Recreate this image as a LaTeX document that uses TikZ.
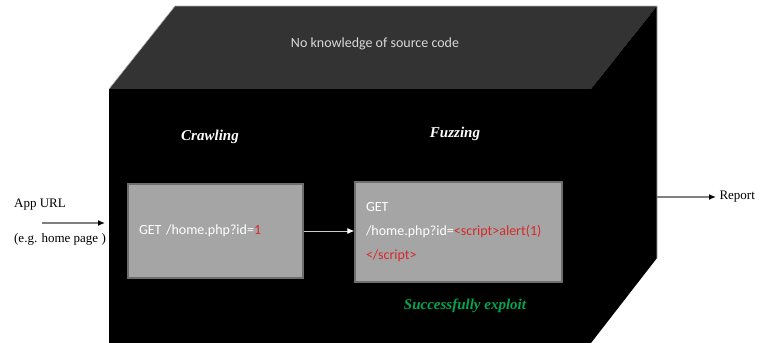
\documentclass[tikz,border=0pt]{standalone}
\usepackage{fontspec}
\setmainfont{Liberation Serif}
\newfontfamily\calibri{Carlito}
\usetikzlibrary{positioning,arrows.meta,calc}
\definecolor{topgray}{HTML}{333333}
\definecolor{boxgray}{HTML}{A5A5A5}
\definecolor{boxedge}{HTML}{6E6E6E}
\definecolor{scriptred}{HTML}{D42A2A}
\definecolor{exploitgreen}{HTML}{00A651}
\tikzset{
  reqbox/.style={draw=boxedge, line width=1.2pt, fill=boxgray, align=left, text=white, inner xsep=11pt, font=\calibri\fontsize{14}{24}\selectfont},
  phase/.style={text=white, font=\fontsize{15}{17}\selectfont\bfseries\itshape},
  toplabel/.style={text=white!85!black, font=\calibri\fontsize{14}{16}\selectfont},
  outlabel/.style={font=\fontsize{13}{15}\selectfont},
  grayarrow/.style={-{Latex[length=7pt, width=6pt, black]}, draw=gray, line width=1.3pt},
  whitearrow/.style={-{Latex[length=7pt, width=6pt, white]}, draw=white!80!black, line width=1pt}
}

\begin{document}
\begin{tikzpicture}[x=1pt, y=-1pt]
  \useasboundingbox (0,0) rectangle (764,343);
  % box corners
  \coordinate (ftl) at (109,89);
  \coordinate (ftr) at (591,89);
  \coordinate (fbr) at (591,343);
  \coordinate (btl) at (175,6);
  \coordinate (btr) at (657,6);
  \coordinate (bbr) at (657,258);
  \fill[topgray] (ftl) -- (btl) -- (btr) -- (ftr) -- cycle;
  \fill[black] (ftr) -- (btr) -- (bbr) -- (fbr) -- cycle;
  \fill[black] (ftl) rectangle (fbr);
  \draw[gray!60, line width=0.6pt] (ftl) -- (btl) -- (btr) -- (bbr);

  \node[toplabel] (topic) at (375,44) {No knowledge of source code};
  \node[phase] (crawl) at (210,137) {Crawling};
  \node[phase] (fuzz) at (455,134) {Fuzzing};

  \node[reqbox, text width=153pt, minimum height=94pt] (req) at (215.5,231)
    {GET /home.php?id=\textcolor{scriptred}{1}\\[-5pt]};
  \node[reqbox, text width=185pt, minimum height=100pt] (attack) at (458.5,232)
    {GET\\/home.php?id=\textcolor{scriptred}{<script>alert(1)}\\\textcolor{scriptred}{</script>}\\[-12pt]};
  \draw[whitearrow] (req.east) -- (attack.west |- req.east);

  \node[phase, text=exploitgreen] (exploit) at (465,306) {Successfully exploit};

  % input and output
  \node[outlabel] (url) at (40,205) {App URL};
  \node[outlabel] (eg) at (60,239) {(e.g. home page )};
  \coordinate (urlin) at (42,223);
  \coordinate (cubein) at (105,223);
  \draw[grayarrow] (urlin) -- (cubein);
  \coordinate (cubeout) at (657,197);
  \node[outlabel, anchor=west] (report) at (716,197) {Report};
  \draw[grayarrow] (cubeout) -- (report);
\end{tikzpicture}
\end{document}
